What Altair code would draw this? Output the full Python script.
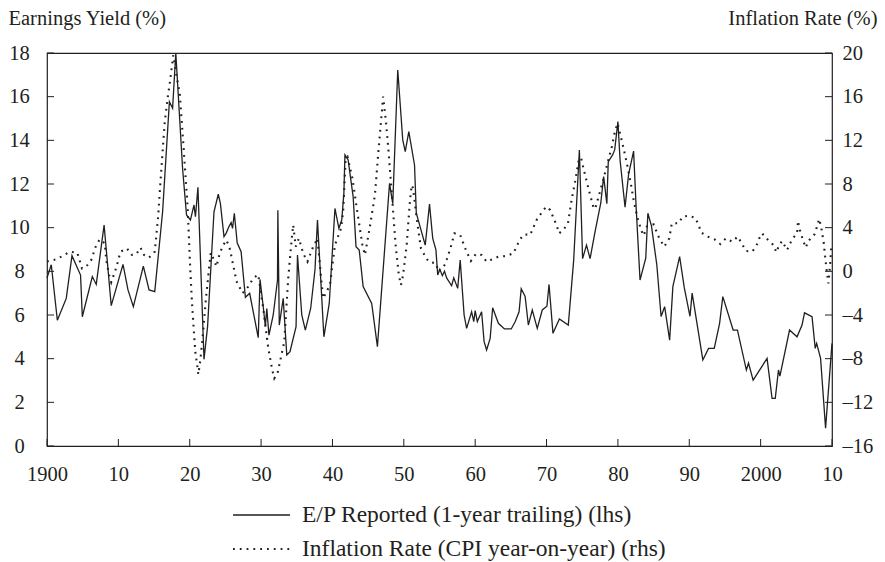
import altair as alt
import pandas as pd

# Earnings yield (E/P, reported, 1-year trailing), % — left axis
ep_year = [
    1900.0, 1900.6, 1901.45, 1902.7, 1903.5, 1904.7, 1904.95, 1906.35, 1906.9, 1908.0,
    1909.0, 1910.65, 1911.35, 1912.1, 1913.5, 1914.3, 1915.1, 1916.2, 1917.15, 1917.6,
    1918.05, 1919.0, 1919.55, 1920.1, 1920.6, 1920.8, 1921.15, 1922.0, 1922.5, 1923.4,
    1924.0, 1924.3, 1924.8, 1925.1, 1925.5, 1925.8, 1926.0, 1926.25, 1926.65, 1927.2,
    1927.8, 1928.4, 1929.6, 1929.85, 1930.3, 1930.6, 1930.8, 1931.1, 1931.7, 1932.3,
    1932.35, 1932.55, 1933.1, 1933.6, 1934.05, 1934.9, 1935.1, 1935.7, 1936.2, 1936.95,
    1937.55, 1937.9, 1938.8, 1939.55, 1940.35, 1940.9, 1941.3, 1941.6, 1941.75, 1942.2,
    1942.45, 1942.9, 1943.3, 1943.75, 1944.3, 1945.5, 1946.3, 1948.0, 1948.45, 1949.15,
    1949.85, 1950.2, 1950.7, 1951.5, 1951.75, 1953.0, 1953.6, 1954.05, 1954.5, 1954.75,
    1955.05, 1955.4, 1955.7, 1956.0, 1956.7, 1957.0, 1957.55, 1957.9, 1958.45, 1958.8,
    1959.5, 1959.8, 1960.0, 1960.3, 1960.9, 1961.25, 1961.6, 1962.1, 1962.45, 1963.25,
    1964.1, 1965.05, 1965.6, 1966.15, 1966.45, 1967.0, 1967.45, 1968.0, 1968.7, 1969.4,
    1970.05, 1970.35, 1970.9, 1971.8, 1973.05, 1973.8, 1974.6, 1975.05, 1975.6, 1976.1,
    1976.8, 1977.6, 1978.0, 1978.45, 1978.65, 1979.25, 1979.55, 1980.0, 1980.3, 1981.0,
    1981.5, 1982.2, 1982.55, 1983.1, 1983.9, 1984.2, 1984.7, 1985.45, 1986.05, 1986.55,
    1987.25, 1987.7, 1988.65, 1989.3, 1990.1, 1990.4, 1991.9, 1992.7, 1993.5, 1994.25,
    1994.7, 1996.15, 1996.75, 1998.0, 1998.3, 1998.95, 2000.9, 2001.6, 2002.05, 2002.5,
    2002.7, 2004.05, 2005.1, 2005.8, 2006.15, 2007.2, 2007.65, 2007.85, 2008.4, 2009.1,
    2010.0,
]
ep_value = [
    7.7, 8.3, 5.76, 6.76, 8.72, 7.83, 5.92, 7.76, 7.4, 10.12,
    6.43, 8.32, 7.15, 6.38, 8.24, 7.15, 7.07, 10.73, 15.77, 15.47,
    18.0, 12.7, 10.58, 10.35, 11.04, 10.5, 11.85, 3.97, 5.47, 10.73,
    11.53, 11.1, 9.59, 9.74, 10.05, 10.23, 9.97, 10.66, 9.31, 8.9,
    6.81, 6.99, 4.96, 7.63, 6.38, 5.47, 6.3, 5.08, 6.0, 7.6,
    10.8, 5.54, 6.76, 4.17, 4.32, 5.47, 8.75, 6.0, 5.31, 6.31,
    8.06, 10.35, 5.0, 6.53, 10.88, 9.97, 10.35, 11.57, 13.33, 13.1,
    12.49, 11.42, 9.13, 8.98, 7.3, 6.53, 4.55, 12.03, 11.1, 17.22,
    14.02, 13.48, 14.4, 12.87, 10.66, 9.2, 11.08, 9.51, 8.98, 7.83,
    8.09, 7.8, 8.0, 7.7, 7.34, 7.7, 7.22, 8.52, 6.0, 5.39,
    6.15, 5.7, 6.2, 5.7, 6.15, 4.78, 4.4, 4.93, 6.33, 5.62,
    5.36, 5.36, 5.69, 6.15, 7.2, 6.85, 5.54, 6.23, 5.39, 6.23,
    6.4, 7.4, 5.16, 5.82, 5.54, 8.5, 13.56, 8.58, 9.2, 8.58,
    9.82, 11.13, 12.34, 11.1, 13.02, 13.33, 13.56, 14.86, 13.1, 10.94,
    12.45, 13.51, 10.96, 7.6, 8.6, 10.66, 10.08, 8.3, 5.93, 6.38,
    4.85, 7.3, 8.67, 7.25, 5.94, 7.0, 3.94, 4.47, 4.47, 5.62,
    6.84, 5.31, 5.31, 3.48, 3.8, 3.02, 4.01, 2.18, 2.18, 3.48,
    3.2, 5.31, 5.0, 5.54, 6.1, 5.92, 4.47, 4.7, 4.01, 0.81,
    4.7,
]

# CPI inflation, year-on-year, % — right axis
cpi_year = [
    1900.0, 1901.3, 1902.25, 1903.2, 1904.25, 1904.9, 1905.5, 1906.2, 1906.9, 1907.4,
    1908.1, 1908.3, 1908.7, 1909.0, 1909.35, 1909.7, 1910.3, 1911.2, 1911.9, 1912.5,
    1913.1, 1913.6, 1914.3, 1915.1, 1915.55, 1916.0, 1916.5, 1916.9, 1917.2, 1917.7,
    1918.2, 1918.6, 1918.85, 1919.1, 1919.4, 1919.7, 1919.9, 1920.1, 1920.35, 1920.6,
    1920.8, 1921.05, 1921.2, 1921.5, 1921.9, 1922.25, 1922.6, 1922.95, 1923.3, 1923.75,
    1924.2, 1924.7, 1925.15, 1925.6, 1925.85, 1926.55, 1927.4, 1928.2, 1928.9, 1929.6,
    1930.3, 1931.0, 1931.55, 1931.85, 1932.3, 1933.25, 1933.8, 1934.3, 1934.5, 1934.85,
    1935.3, 1935.9, 1936.5, 1937.3, 1937.9, 1938.5, 1938.7, 1939.65, 1940.35, 1941.2,
    1941.5, 1941.85, 1942.1, 1942.8, 1943.55, 1944.2, 1944.55, 1945.25, 1945.95, 1946.4,
    1946.8, 1947.1, 1947.5, 1947.9, 1948.4, 1948.85, 1949.3, 1949.6, 1949.9, 1950.4,
    1950.85, 1951.1, 1951.3, 1951.8, 1952.4, 1952.9, 1953.45, 1954.5, 1954.85, 1955.8,
    1956.5, 1957.1, 1957.9, 1958.7, 1959.4, 1960.1, 1960.9, 1961.6, 1963.25, 1964.35,
    1965.35, 1966.3, 1966.9, 1967.7, 1968.65, 1969.25, 1969.95, 1970.5, 1971.45, 1971.75,
    1972.35, 1973.0, 1973.55, 1974.0, 1974.55, 1974.85, 1975.4, 1975.95, 1976.55, 1976.8,
    1977.4, 1978.0, 1978.6, 1979.15, 1979.6, 1979.95, 1980.35, 1980.9, 1981.4, 1981.8,
    1982.2, 1982.65, 1983.25, 1983.6, 1984.05, 1985.0, 1985.8, 1986.5, 1987.2, 1987.55,
    1988.5, 1989.05, 1989.9, 1990.85, 1991.3, 1991.7, 1992.6, 1993.55, 1994.35, 1995.15,
    1996.0, 1996.8, 1997.4, 1997.95, 1998.8, 1999.4, 1999.8, 2000.2, 2000.8, 2001.8,
    2002.2, 2002.6, 2003.0, 2003.7, 2004.4, 2005.1, 2005.25, 2005.4, 2006.0, 2006.35,
    2006.6, 2007.55, 2007.9, 2008.2, 2008.5, 2008.85, 2009.1, 2009.35, 2009.5, 2009.75,
    2009.9,
]
cpi_value = [
    0.9, 1.1, 1.43, 1.8, 1.7, 0.27, 0.43, 1.04, 2.41, 2.93,
    2.56, 1.04, -0.34, -1.0, -0.34, 0.33, 1.8, 2.1, 1.5, 1.56,
    2.17, 1.5, 1.25, 1.8, 4.85, 9.13, 13.7, 15.85, 17.22, 19.8,
    17.7, 16.3, 14.0, 11.7, 8.8, 5.9, 2.87, -0.18, -3.24, -5.68,
    -7.5, -8.58, -9.44, -8.1, -5.4, -2.6, -0.4, 1.7, 1.19, 0.43,
    1.65, 2.41, 2.87, 2.1, 1.34, -0.9, -2.0, -1.4, -0.64, -0.3,
    -3.4, -7.0, -9.0, -9.8, -9.34, -6.44, -0.64, 3.02, 4.24, 2.26,
    3.02, 1.65, 0.89, 2.26, 3.02, -1.25, -2.47, -1.25, 2.41, 3.94,
    5.47, 10.35, 10.5, 8.52, 5.16, 2.41, 1.5, 4.1, 7.0, 10.66,
    13.7, 16.0, 13.7, 10.66, 6.38, 2.41, -0.34, -1.25, -0.34, 2.41,
    6.38, 7.9, 7.6, 4.85, 2.1, 1.5, 0.89, 0.73, -0.03, 0.64,
    2.05, 3.48, 3.33, 1.95, 0.95, 1.59, 1.5, 0.89, 1.34, 1.4,
    1.65, 2.96, 3.39, 3.33, 4.76, 5.31, 5.92, 5.62, 4.15, 3.48,
    3.79, 4.4, 6.69, 8.21, 10.35, 10.35, 8.82, 7.39, 5.92, 5.71,
    7.08, 8.52, 10.05, 11.42, 12.85, 13.56, 12.5, 10.96, 9.43, 8.06,
    6.53, 5.16, 3.79, 3.27, 4.09, 4.3, 3.02, 2.26, 3.02, 4.4,
    4.4, 5.0, 5.1, 4.9, 4.24, 3.54, 3.18, 2.93, 2.5, 3.02,
    2.72, 3.18, 2.5, 1.86, 1.8, 2.32, 3.02, 3.48, 3.02, 2.41,
    1.74, 2.41, 2.78, 1.95, 2.93, 3.48, 4.64, 4.0, 2.72, 2.17,
    2.72, 3.39, 4.1, 4.8, 4.0, 2.56, 0.95, -0.34, -1.1, 0.73,
    2.26,
]

series_names = [
    "E/P Reported (1-year trailing) (lhs)",
    "Inflation Rate (CPI year-on-year) (rhs)",
]
decade_ticks = list(range(1900, 2011, 10))
ep_ticks = list(range(0, 19, 2))
cpi_ticks = list(range(-16, 21, 4))

INK = "#231f20"
FONT = "Liberation Serif"
FS = 20.5
LEGEND_FS = 23.5
W, H = 785, 393
DOTS = [1.8, 5]
TICK = 7

ep_df = pd.DataFrame({"year": ep_year, "value": ep_value})
cpi_df = pd.DataFrame({"year": cpi_year, "value": cpi_value})

x_scale = alt.Scale(domain=[1900, 2010], nice=False, zero=False)
ep_scale = alt.Scale(domain=[0, 18], nice=False, zero=False)
cpi_scale = alt.Scale(domain=[-16, 20], nice=False, zero=False)

x_axis = alt.Axis(
    values=decade_ticks, ticks=False, domain=False, grid=False, title="",
    labelExpr="datum.value % 100 == 0 ? format(datum.value, 'd') : substring(format(datum.value, 'd'), 2)",
    labelPadding=18, labelFlush=False,
)

ep_axis = alt.Axis(
    orient="left", values=ep_ticks, ticks=False, domain=False, grid=False,
    labelAlign="center", labelPadding=28, labelFlush=False,
    title="Earnings Yield (%)", titleAngle=0, titleAlign="left",
    titleBaseline="middle", titleX=-39, titleY=-35,
)
cpi_axis = alt.Axis(
    orient="right", values=cpi_ticks, ticks=False, domain=False, grid=False,
    labelAlign="left", labelPadding=10, labelFlush=False,
    labelExpr="datum.value < 0 ? '\u2013' + format(-datum.value, 'd') : format(datum.value, 'd')",
    title="Inflation Rate (%)", titleAngle=0, titleAlign="right",
    titleBaseline="middle", titleX=45, titleY=-35,
)

ep_line = alt.Chart(ep_df).mark_line(
    color=INK, strokeWidth=1.3, strokeMiterLimit=4
).encode(
    x=alt.X("year:Q", scale=x_scale, axis=x_axis),
    y=alt.Y("value:Q", scale=ep_scale, axis=ep_axis),
)

cpi_line = alt.Chart(cpi_df).mark_line(
    color=INK, strokeWidth=2.1, strokeDash=DOTS
).encode(
    x=alt.X("year:Q", scale=x_scale, axis=x_axis),
    y=alt.Y("value:Q", scale=cpi_scale, axis=cpi_axis),
)

# inward-pointing tick marks on the three axes
ep_tick_marks = alt.Chart(pd.DataFrame({"v": ep_ticks})).mark_rule(
    color=INK, strokeWidth=1
).encode(
    y=alt.Y("v:Q", scale=ep_scale, axis=None),
    x=alt.value(0), x2=alt.value(TICK),
)
cpi_tick_marks = alt.Chart(pd.DataFrame({"v": cpi_ticks})).mark_rule(
    color=INK, strokeWidth=1
).encode(
    y=alt.Y("v:Q", scale=cpi_scale, axis=None),
    x=alt.value(W - TICK), x2=alt.value(W),
)
year_tick_marks = alt.Chart(pd.DataFrame({"year": decade_ticks})).mark_rule(
    color=INK, strokeWidth=1
).encode(
    x=alt.X("year:Q", scale=x_scale, axis=x_axis),
    y=alt.value(H - TICK), y2=alt.value(H),
)

# legend below the plot
def legend_row(label, ypos, dash, width):
    df = pd.DataFrame({"label": [label]})
    sym = alt.Chart(df).mark_rule(color=INK, strokeWidth=width, strokeDash=dash).encode(
        x=alt.value(186), x2=alt.value(243), y=alt.value(ypos)
    )
    txt = alt.Chart(df).mark_text(
        align="left", baseline="middle", font=FONT, fontSize=LEGEND_FS, color=INK
    ).encode(x=alt.value(255), y=alt.value(ypos), text="label:N")
    return sym + txt

legend_ep = legend_row(series_names[0], 462, [1, 0], 1.3)
legend_cpi = legend_row(series_names[1], 496, DOTS, 2.1)

chart = alt.layer(
    ep_line, cpi_line, ep_tick_marks, cpi_tick_marks, year_tick_marks,
    legend_ep, legend_cpi,
).resolve_scale(
    y="independent"
).properties(
    width=W, height=H,
    padding={"left": 47, "top": 53, "right": 53, "bottom": 116},
    autosize=alt.AutoSizeParams(type="none"),
).configure_view(
    stroke=INK, strokeWidth=1.2
).configure_axis(
    labelFont=FONT, titleFont=FONT, labelFontSize=FS, titleFontSize=FS,
    labelColor=INK, titleColor=INK, titleFontWeight="normal",
)

chart.save("out.html", embed_options={"renderer": "svg", "actions": False})
